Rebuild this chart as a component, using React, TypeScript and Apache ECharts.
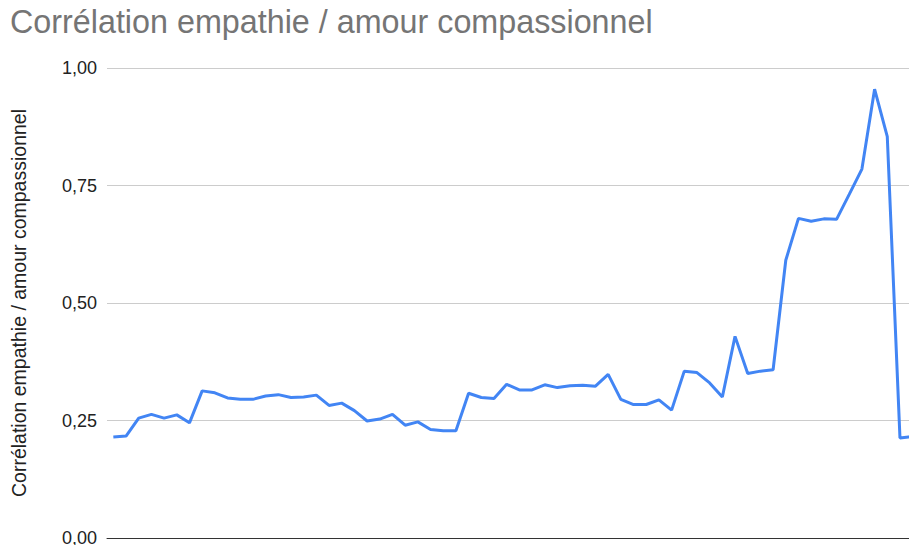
import React, { useEffect, useRef } from "react";
import * as echarts from "echarts";

const titleText = "Corrélation empathie / amour compassionnel";
const yAxisName = "Corrélation empathie / amour compassionnel";

const categories = [
  "1", "2", "3", "4", "5", "6", "7", "8", "9", "10",
  "11", "12", "13", "14", "15", "16", "17", "18", "19", "20",
  "21", "22", "23", "24", "25", "26", "27", "28", "29", "30",
  "31", "32", "33", "34", "35", "36", "37", "38", "39", "40",
  "41", "42", "43", "44", "45", "46", "47", "48", "49", "50",
  "51", "52", "53", "54", "55", "56", "57", "58", "59", "60",
  "61", "62", "63", "64",
];

const correlation = [
  0.215, 0.217, 0.255, 0.263, 0.255, 0.262, 0.245, 0.313, 0.309, 0.298,
  0.295, 0.295, 0.302, 0.305, 0.299, 0.300, 0.304, 0.282, 0.287, 0.271,
  0.249, 0.253, 0.263, 0.240, 0.247, 0.231, 0.228, 0.228, 0.308, 0.299,
  0.297, 0.327, 0.315, 0.315, 0.326, 0.320, 0.324, 0.325, 0.323, 0.348,
  0.295, 0.284, 0.284, 0.294, 0.272, 0.355, 0.352, 0.330, 0.300, 0.429,
  0.350, 0.355, 0.358, 0.591, 0.680, 0.674, 0.679, 0.678, 0.731, 0.785,
  0.955, 0.854, 0.213, 0.216,
];

const yMin = 0;
const yMax = 1;
const yInterval = 0.25;

export default function App() {
  const ref = useRef<HTMLDivElement>(null);
  useEffect(() => {
    document.documentElement.style.overflow = "hidden";
    document.body.style.overflow = "hidden";
    if (!ref.current) return;
    const chart = echarts.init(ref.current, undefined, { renderer: "svg" });
    chart.setOption({
      animation: false,
      backgroundColor: "#ffffff",
      title: {
        text: titleText,
        left: 5,
        top: 1,
        textStyle: {
          fontFamily: "Liberation Sans, Arial, sans-serif",
          fontSize: 32.3,
          fontWeight: "normal",
          color: "#757575",
        },
      },
      grid: {
        left: 107,
        width: 812,
        top: 68,
        bottom: 7,
        outerBoundsMode: "none",
        containLabel: false,
      },
      xAxis: {
        type: "category",
        data: categories,
        boundaryGap: true,
        axisLine: { show: true, lineStyle: { color: "#333333", width: 1 } },
        axisTick: { show: false },
        axisLabel: { show: false },
        splitLine: { show: false },
      },
      yAxis: {
        type: "value",
        min: yMin,
        max: yMax,
        interval: yInterval,
        name: yAxisName,
        nameLocation: "middle",
        nameRotate: 90,
        nameGap: 78,
        nameTextStyle: {
          fontFamily: "Liberation Sans, Arial, sans-serif",
          fontSize: 19.5,
          color: "#222222",
        },
        axisLine: { show: false },
        axisTick: { show: false },
        axisLabel: {
          margin: 10,
          fontFamily: "Liberation Sans, Arial, sans-serif",
          fontSize: 18,
          color: "#222222",
          formatter: (v: number) => v.toFixed(2).replace(".", ","),
        },
        splitLine: { show: true, lineStyle: { color: "#cccccc", width: 1 } },
      },
      series: [
        {
          type: "line",
          data: correlation,
          showSymbol: false,
          smooth: false,
          lineStyle: { color: "#4285F4", width: 3 },
          itemStyle: { color: "#4285F4" },
        },
      ],
    });
    return () => chart.dispose();
  }, []);
  return (
    <div
      ref={ref}
      style={{ position: "absolute", left: 0, top: 0, width: 930, height: 545 }}
    />
  );
}
